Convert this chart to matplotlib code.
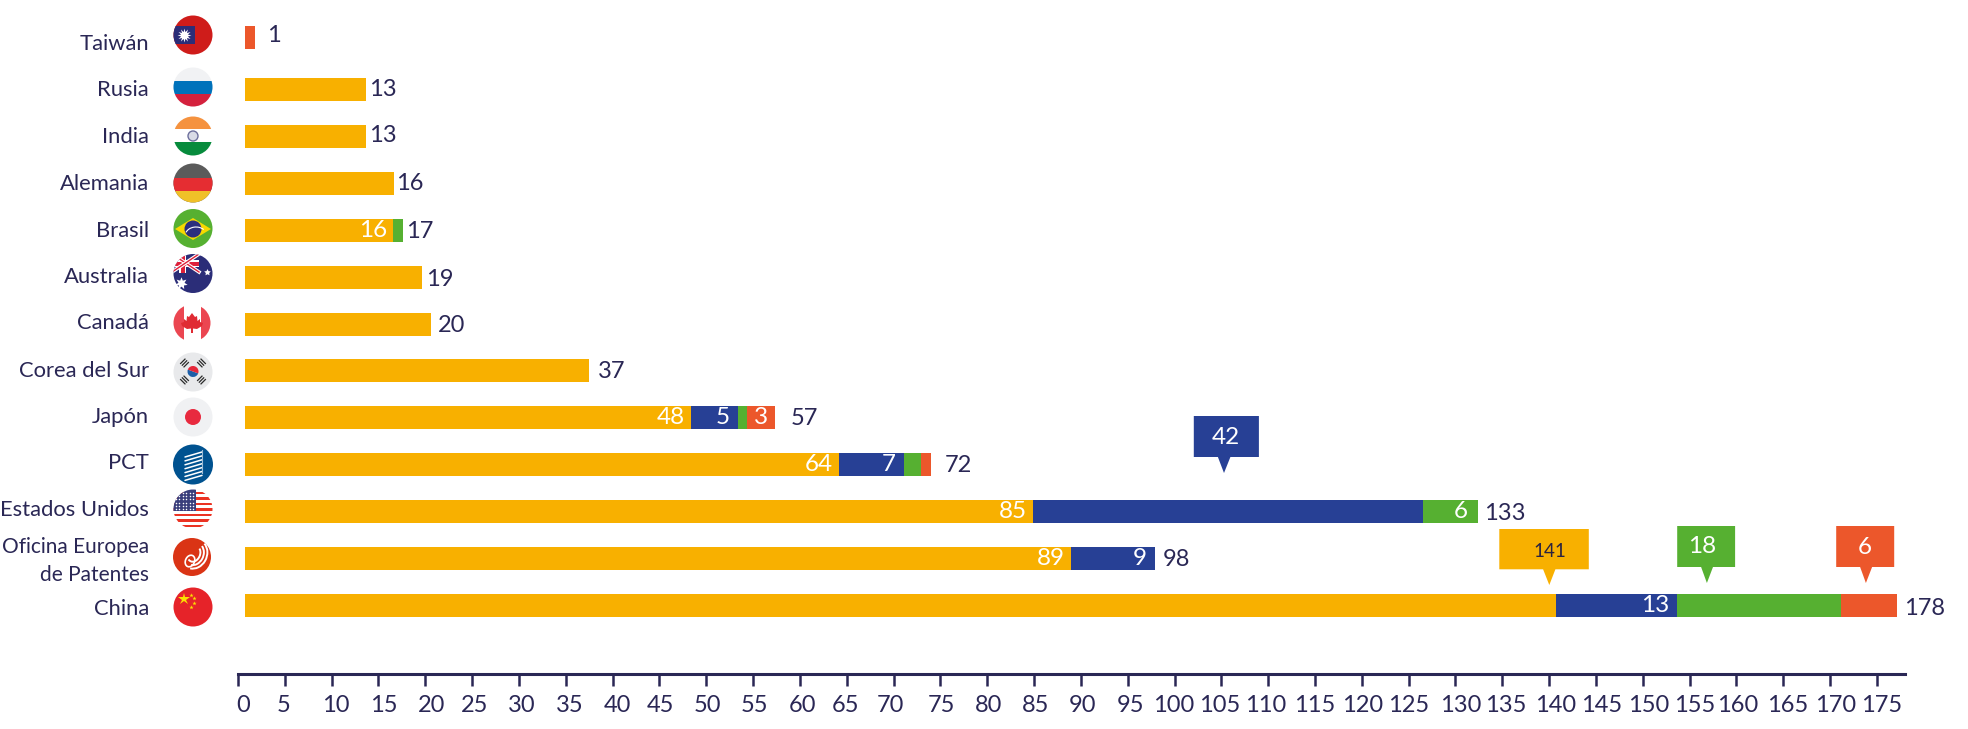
import numpy as np
import matplotlib
matplotlib.use("Agg")
import matplotlib.pyplot as plt
from matplotlib.patches import Arc, Circle, Polygon, Rectangle, Wedge

plt.rcParams["font.family"] = ["Lato", "DejaVu Sans"]

NAVY = "#2a2755"
YELLOW = "#f8b000"
BLUE = "#274095"
GREEN = "#56b031"
ORANGE = "#ec572b"

categories = ["Taiwán", "Rusia", "India", "Alemania", "Brasil", "Australia", "Canadá",
              "Corea del Sur", "Japón", "PCT", "Estados Unidos",
              "Oficina Europea\nde Patentes", "China"]
totals = [1, 13, 13, 16, 17, 19, 20, 37, 57, 72, 133, 98, 178]

# drawn bar lengths (slightly shorter than the labels)
yellow = [0, 12.92, 12.92, 15.91, 15.8, 18.9, 19.86, 36.69, 47.63, 63.41, 84.14, 88.2, 140.0]
blue = [0, 0, 0, 0, 0, 0, 0, 0, 5.0, 6.96, 41.62, 8.96, 12.92]
green = [0, 0, 0, 0, 1.07, 0, 0, 0, 0.96, 1.82, 5.88, 0, 17.49]
orange = [1.07, 0, 0, 0, 0, 0, 0, 0, 3.0, 1.05, 0, 0, 5.99]

# numbers printed inside the bars
yellow_labels = ["", "", "", "", "16", "", "", "", "48", "64", "85", "89", ""]
blue_labels = ["", "", "", "", "", "", "", "", "5", "7", "", "9", "13"]
green_labels = ["", "", "", "", "", "", "", "", "", "", "6", "", ""]
orange_labels = ["", "", "", "", "", "", "", "", "3", "", "", "", ""]

tick_values = list(range(0, 180, 5))

bar_start = 0.75
row_y = [-0.11, 1, 2, 3, 4, 5, 6, 7, 8, 9, 10, 11, 12]

# nudges in px, the original labels sit unevenly
total_dx = [19, 17, 17, 16, 17, 18, 21, 23, 29.5, 27, 27, 21, 27.5]
total_dy = [-2.5, -1.5, -1.5, -0.5, 0, 1, 0, 0, -0.5, -0.5, 0.5, -0.5, 1.5]
inner_pad = [6, 8, 10, 7]
tick_dx = [5, -1, 4, 5, 6, 2, 3, 4, 5, 1, 1, 1, 3, -1, -3, 1, 1, 2, 2, 3, -1, -2, -3, 0, 1, 0,
           5.5, 3.3, 6.5, 5.5, 5.5, 4.7, 1, 4, 5, 5]
cat_y = [44, 90, 137, 184, 231, 277, 323, 371, 417, 463, 510, 561, 609]
cat_size = [15.8] * 11 + [15.0, 15.8]

fig = plt.figure(figsize=(19.68, 7.29), dpi=100)
ax = fig.add_axes([238 / 1968, 55 / 729, (1905 - 238) / 1968, 674 / 729])
ax.set_xlim(0, 178)
ax.set_ylim(13.46, -0.908)
ax.patch.set_visible(False)

left = np.full(13, bar_start)
series = [(yellow, YELLOW, yellow_labels), (blue, BLUE, blue_labels),
          (green, GREEN, green_labels), (orange, ORANGE, orange_labels)]
for (widths, color, labels), pad in zip(series, inner_pad):
    widths = np.array(widths)
    ax.barh(row_y, widths, height=0.49, left=left, color=color, linewidth=0)
    left = left + widths
    for i, lab in enumerate(labels):
        if lab:
            ax.annotate(lab, (left[i], row_y[i]), xytext=(-pad, 0), textcoords="offset pixels",
                        ha="right", va="center", color="white", fontsize=17.5)

for i, tot in enumerate(totals):
    ax.annotate(str(tot), (left[i], row_y[i]), xytext=(total_dx[i], -total_dy[i] - 1),
                textcoords="offset pixels", ha="center", va="center", color=NAVY, fontsize=17)

for s in ["top", "left", "right"]:
    ax.spines[s].set_visible(False)
ax.spines["bottom"].set_color(NAVY)
ax.spines["bottom"].set_linewidth(2.2)
ax.set_yticks([])
ax.set_xticks(tick_values)
ax.set_xticklabels([])
ax.tick_params(axis="x", length=8.5, width=1.8, color=NAVY)
for v, dx in zip(tick_values, tick_dx):
    ax.annotate(str(v), (v, 0), xycoords=("data", "axes fraction"), xytext=(dx, -31),
                textcoords="offset pixels", ha="center", va="center", color=NAVY, fontsize=17)

# overlay in pixels for the flags, country names and callouts
ov = fig.add_axes([0, 0, 1, 1])
ov.set_xlim(0, 1968)
ov.set_ylim(729, 0)
ov.axis("off")

for name, y, fs in zip(categories, cat_y, cat_size):
    ov.text(149, y, name, ha="right", va="center", color=NAVY, fontsize=fs, linespacing=1.45)


def base(cx, cy, color, r=19.5):
    c = Circle((cx, cy), r, fc=color, ec="none")
    ov.add_patch(c)
    return c


def clipped(clip, artist):
    ov.add_artist(artist)
    artist.set_clip_path(clip)
    return artist


def band(clip, x0, y0, x1, y1, color):
    return clipped(clip, Rectangle((x0, y0), x1 - x0, y1 - y0, fc=color, ec="none"))


# Taiwan
c = base(193, 35, "#cf1c1a")
band(c, 170, 26, 195, 44, "#2b2d78")
ov.plot(184, 35, marker=(12, 1), ms=10, color="white", mew=0)
ov.add_patch(Circle((184, 35), 2.4, fc="#2b2d78", ec="white", lw=0.8))

# Russia
c = base(193, 87, "#f1f2f4")
band(c, 170, 81, 216, 94, "#0072bb")
band(c, 170, 94, 216, 110, "#d4213d")

# India
c = base(193, 136, "#ffffff")
band(c, 170, 114, 216, 129, "#f5923f")
band(c, 170, 142.3, 216, 158, "#078b3c")
ov.add_patch(Circle((193, 136), 5, fc="#d9dbe6", ec="#6d6f9c", lw=1))

# Germany
c = base(193, 183, "#5b5b5b")
band(c, 170, 178, 216, 191, "#e52d32")
band(c, 170, 191, 216, 205, "#f0c028")

# Brazil
c = base(193, 228.5, GREEN)
ov.add_patch(Polygon([(175, 229), (193, 218), (211, 229), (193, 240)], fc="#f7d900", ec="none"))
ov.add_patch(Circle((193, 229), 8.5, fc="#2b2e7e", ec="none"))
ov.add_patch(Arc((196, 236), 22, 18, theta1=200, theta2=320, color="white", lw=0.8))

# Australia
c = base(193, 273.5, "#2b2d78")
for a, b in [((172, 254), (199, 272)), ((172, 272), (199, 254))]:
    clipped(c, plt.Line2D(*zip(a, b), color="white", lw=2.6))
    clipped(c, plt.Line2D(*zip(a, b), color="#e0203a", lw=1))
band(c, 172, 260, 199, 267, "white")
band(c, 179, 253, 186, 273, "white")
band(c, 172, 261.5, 199, 265.5, "#e0203a")
band(c, 180.5, 253, 184.5, 273, "#e0203a")
ov.plot(180.5, 283, marker=(7, 1), ms=9, color="white", mew=0)
ov.plot(207, 272, marker=(5, 1), ms=5, color="white", mew=0)

# Canada
c = base(192, 323, "#ffffff", 18.5)
band(c, 170, 300, 184, 345, "#eb4651")
band(c, 201, 300, 214, 345, "#eb4651")
leaf_x = [192, 195, 197, 197.5, 200, 200, 203, 202, 197, 193, 193, 191, 191, 187, 182, 181, 184, 184, 186.5, 187, 189]
leaf_y = [313, 317, 316, 321, 319, 322, 323, 326, 329, 328.5, 333, 333, 328.5, 329, 326, 323, 322, 319, 321, 316, 317]
ov.add_patch(Polygon(np.column_stack([leaf_x, leaf_y]), fc="#e02b33", ec="none"))

# South Korea
base(193, 372, "#e8e9eb")
ov.add_patch(Wedge((193, 371.5), 5.5, 20, 200, fc="#1c5fa8", ec="none"))
ov.add_patch(Wedge((193, 371.5), 5.5, 200, 20, fc="#e5283a", ec="none"))
for dx, dy in [(-8.5, -8.5), (8.5, -8.5), (-8.5, 8.5), (8.5, 8.5)]:
    slope = 1 if dx * dy > 0 else -1
    for k in (-1.7, 0, 1.7):
        mx, my = 193 + dx + k, 371.5 + dy + k * slope
        ov.plot([mx - 2.2 * slope, mx + 2.2 * slope], [my + 2.2, my - 2.2], color="#2b2b2b", lw=0.9)

# Japan
base(193, 417, "#f0f1f3")
ov.add_patch(Circle((193, 417), 8, fc="#e82a3f", ec="none"))

# PCT
base(193, 464.5, "#005290", 20)
for k in range(7):
    yb = 455.5 + k * 3.9
    ov.plot([185, 202], [yb + 1.5, yb - 3.5], color="white", lw=1.1, solid_capstyle="round")
ov.plot([202, 202], [450, 473], color="#9cbcd6", lw=0.8)

# United States
c = base(193, 509, "#ffffff")
for k in range(7):
    y0 = 491.5 + k * 5.5
    band(c, 170, y0, 216, y0 + 2.8, "#eb3323")
band(c, 170, 488, 195.7, 510.7, "#3a3f7c")
sx, sy = np.meshgrid(np.arange(176, 195, 3.4), np.arange(493, 510, 3.2))
ov.scatter(sx.ravel(), sy.ravel(), s=1.2, color="white", linewidths=0)

# European Patent Office
base(192, 557, "#da3415", 19)
for w, h in [(12, 16), (19, 23), (26, 30)]:
    ov.add_patch(Arc((194, 554), w, h, angle=25, theta1=-70, theta2=110 if w == 12 else 80, color="white", lw=1.4))
ov.add_patch(Arc((190, 561), 9, 12, angle=25, theta1=0, theta2=360, color="white", lw=1.2))

# China
base(193, 607, "#e62329")
ov.plot(183.5, 598.5, marker="*", ms=9, color="#fbe100", mew=0)
ov.plot([191, 194, 194, 191], [594.5, 598, 603, 606.5], ls="none", marker="*", ms=3.2, color="#fbe100", mew=0)

# callouts
callout_values = ["42", "141", "18", "6"]
callout_colors = [BLUE, YELLOW, GREEN, ORANGE]
callout_text = ["white", "#2b2340", "white", "white"]
callout_box = [(1193.8, 1258.9, 416, 457), (1499.3, 1588.8, 529, 569.3),
               (1677.2, 1735.1, 526, 567), (1836.2, 1894.2, 526, 567)]
callout_tip = [(1217.9, 1230.4, 1224, 473), (1543.1, 1555.4, 1549.3, 585),
               (1701.1, 1713, 1706.9, 583), (1860.1, 1872.1, 1865.9, 583)]
callout_pos = [(1225.4, 437.5), (1549.6, 551.5), (1702.5, 546.5), (1864.5, 547)]
callout_size = [17.5, 13.5, 17.5, 17.5]

for val, col, tcol, box, tip, pos, fs in zip(callout_values, callout_colors, callout_text,
                                             callout_box, callout_tip, callout_pos, callout_size):
    x0, x1, y0, y1 = box
    ov.add_patch(Polygon([(x0, y0), (x1, y0), (x1, y1), (tip[1], y1), (tip[2], tip[3]), (tip[0], y1), (x0, y1)],
                         fc=col, ec="none"))
    ov.text(pos[0], pos[1], val, ha="center", va="center", color=tcol, fontsize=fs)

fig.savefig("out.png", dpi=100)
